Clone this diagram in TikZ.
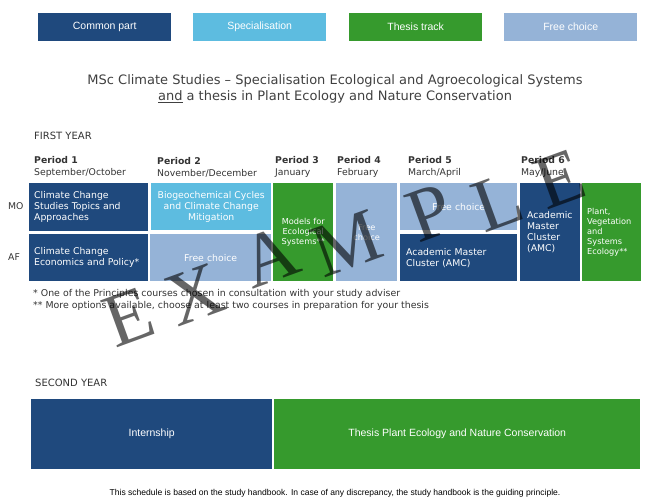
\documentclass[tikz,border=0pt]{standalone}
\usepackage{fontspec}
\setmainfont{DejaVu Sans}
\newfontfamily\lsans{Liberation Sans}
\newfontfamily\wmfont{Liberation Serif}
\definecolor{cblue}{HTML}{1F497D}
\definecolor{spec}{HTML}{5DBCE0}
\definecolor{thesis}{HTML}{369A2D}
\definecolor{free}{HTML}{95B3D7}
\definecolor{txt}{HTML}{333333}
\definecolor{ttl}{HTML}{404040}
\begin{document}
\begin{tikzpicture}[x=1pt,y=-1pt,
  legend/.style={anchor=north west, minimum width=133pt, minimum height=28pt, inner sep=0pt, text=white, font=\lsans\fontsize{10.5}{12}\selectfont},
  ttl/.style={text=ttl, inner sep=0pt, font=\fontsize{13}{15}\selectfont},
  lbl/.style={anchor=west, inner sep=0pt, text=txt, font=\fontsize{9.3}{12}\selectfont, align=left},
  cell/.style={anchor=north west, inner xsep=5pt, inner ysep=0pt, text=white, font=\fontsize{9.3}{11}\selectfont},
  smallcell/.style={cell, font=\fontsize{8.2}{10}\selectfont},
  wm/.style={rotate=20, inner sep=0pt, text=black, opacity=0.6, font=\wmfont\fontsize{76}{76}\selectfont},
  big/.style={anchor=north west, inner sep=0pt, text=white, minimum height=70pt, font=\lsans\fontsize{10.5}{12}\selectfont}
]
\useasboundingbox (0,0) rectangle (670,503);
% legend
\node[legend, fill=cblue]  (lg1) at (38,13)  {\raisebox{-1pt}{Common part}};
\node[legend, fill=spec]   (lg2) at (193,13) {\raisebox{-1pt}{Specialisation}};
\node[legend, fill=thesis] (lg3) at (349,13) {\raisebox{-1pt}{Thesis track}};
\node[legend, fill=free]   (lg4) at (504,13) {\raisebox{-1pt}{Free choice}};
% title
\node[ttl] (t1) at (335,81) {MSc Climate Studies – Specialisation Ecological and Agroecological Systems};
\node[ttl] (t2) at (335,97) {\underline{and} a thesis in Plant Ecology and Nature Conservation};
% first year
\node[lbl, font=\fontsize{10}{12}\selectfont] (fy) at (34,136) {FIRST YEAR};
\node[lbl] (h1) at (34,167) {\textbf{Period 1}\\September/October};
\node[lbl] (h2) at (157,167) {\textbf{Period 2}\\November/December};
\node[lbl] (h3) at (275,167) {\textbf{Period 3}\\January};
\node[lbl] (h4) at (337,167) {\textbf{Period 4}\\February};
\node[lbl] (h5) at (408,167) {\textbf{Period 5}\\March/April};
\node[lbl] (h6) at (521,167) {\textbf{Period 6}\\May/June};
\node[lbl] (mo) at (8,206) {MO};
\node[lbl] (af) at (8,257) {AF};
% grid
\node[cell, fill=cblue, minimum height=48pt, text width=109pt, align=left] (p1mo) at (29,183) {Climate Change\\Studies Topics and\\Approaches};
\node[cell, fill=cblue, minimum height=47pt, text width=109pt, align=left] (p1af) at (29,234) {Climate Change\\Economics and Policy*};
\node[cell, fill=spec, minimum height=47pt, text width=110pt, align=center] (p2mo) at (151,183) {Biogeochemical Cycles\\and Climate Change\\Mitigation};
\node[cell, fill=free, minimum height=47pt, text width=111pt, align=center] (p2af) at (150,234) {Free choice};
\node[smallcell, fill=thesis, minimum height=98pt, text width=50pt, inner xsep=5pt, align=center] (p3) at (273,183) {Models for\\Ecological\\Systems**};
\node[smallcell, fill=free, minimum height=98pt, text width=51pt, align=center] (p4) at (336,183) {Free\\choice};
\node[cell, fill=free, minimum height=47pt, text width=107pt, align=center] (p5mo) at (400,183) {Free choice};
\node[cell, fill=cblue, minimum height=47pt, text width=105pt, inner xsep=6pt, align=left] (p5af) at (400,234) {Academic Master\\Cluster (AMC)};
\node[cell, fill=cblue, minimum height=98pt, text width=46pt, inner xsep=7pt, align=left] (p6a) at (520,183) {Academic\\Master\\Cluster\\(AMC)};
\node[smallcell, fill=thesis, minimum height=98pt, text width=49pt, align=left] (p6b) at (582,183) {Plant,\\Vegetation\\and\\Systems\\Ecology**};
% footnotes
\node[lbl, font=\fontsize{9.4}{11}\selectfont] (fn1) at (33,294) {* One of the Principles courses chosen in consultation with your study adviser};
\node[lbl, font=\fontsize{9.4}{11}\selectfont] (fn2) at (33,306) {** More options available, choose at least two courses in preparation for your thesis};
% second year
\node[lbl, font=\fontsize{10}{12}\selectfont] (sy) at (35,383) {SECOND YEAR};
\node[big, fill=cblue, minimum width=241pt] (intern) at (31,399) {Internship};
\node[big, fill=thesis, minimum width=366pt] (thes) at (274,399) {\raisebox{4pt}{Thesis Plant Ecology and Nature Conservation}};
\node[inner sep=0pt, text=black, font=\lsans\fontsize{8.55}{10}\selectfont] (foot) at (335,493) {This schedule is based on the study handbook. In case of any discrepancy, the study handbook is the guiding principle.};
% watermark
\node[wm] (w1) at (129,317) {E};
\node[wm] (w2) at (195,295) {X};
\node[wm] (w3) at (270,257) {A};
\node[wm] (w4) at (347,244) {M};
\node[wm] (w5) at (430,213) {P};
\node[wm] (w6) at (498,202) {L};
\node[wm] (w7) at (560,179) {E};
\end{tikzpicture}
\end{document}
